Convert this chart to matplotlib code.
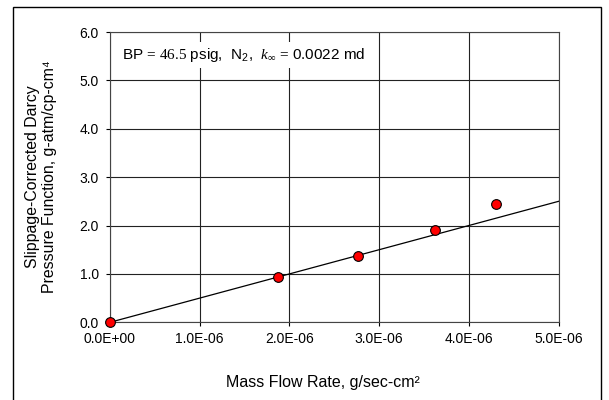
import numpy as np
import matplotlib.pyplot as plt
from matplotlib.patches import Rectangle

plt.rcParams['font.family'] = ['Liberation Sans', 'DejaVu Sans']
plt.rcParams['mathtext.fontset'] = 'custom'
plt.rcParams['mathtext.rm'] = 'Liberation Serif'
plt.rcParams['mathtext.sf'] = 'Liberation Sans'
plt.rcParams['mathtext.it'] = 'Liberation Serif:italic'

# data
mass_flow = [0.0, 1.87e-6, 2.76e-6, 3.62e-6, 4.30e-6]
pressure_fn = [0.0, 0.94, 1.38, 1.90, 2.44]
fit_x = [0.0, 5.0e-6]
fit_y = [0.0, 2.5]
x_ticks = [0.0, 1e-6, 2e-6, 3e-6, 4e-6, 5e-6]
x_labels = ["0.0E+00", "1.0E-06", "2.0E-06", "3.0E-06", "4.0E-06", "5.0E-06"]
y_ticks = [0.0, 1.0, 2.0, 3.0, 4.0, 5.0, 6.0]

W, H = 609, 400
left, right, top, bottom = 110, 558.5, 32, 322.3

fig = plt.figure(figsize=(W / 100, H / 100), dpi=100)
ax = fig.add_axes([left / W, 1 - bottom / H, (right - left) / W, (bottom - top) / H])

# outer frame of the chart area
fig.patches.append(Rectangle((12.5 / W, -0.05), (600.5 - 12.5) / W, 1 - 6.7 / H + 0.05,
                             transform=fig.transFigure, fill=False,
                             edgecolor='black', linewidth=1.0))

ax.plot(fit_x, fit_y, color='black', linewidth=0.9, zorder=3)
ax.plot(mass_flow, pressure_fn, 'o', markerfacecolor='#ff0000', markeredgecolor='black',
        markeredgewidth=0.8, markersize=7, clip_on=False, zorder=4)

ax.set_xlim(0, 5e-6)
ax.set_ylim(0, 6)
ax.set_xticks(x_ticks)
ax.set_xticklabels(x_labels)
ax.set_yticks(y_ticks)
ax.set_yticklabels([f"{v:.1f}" for v in y_ticks])
ax.tick_params(labelsize=10, direction='out', length=3, width=0.8, color='black')
ax.tick_params(axis='x', pad=4)
ax.tick_params(axis='y', pad=5)
ax.grid(True, color='#222222', linewidth=0.8)
ax.set_axisbelow(True)
for s in ax.spines.values():
    s.set_linewidth(0.8)
    s.set_color('#444444')

fig.text(41 / W, 1 - 177 / H,
         "Slippage-Corrected Darcy\nPressure Function, g-atm/cp-cm\u2074",
         fontsize=11.4, rotation=90, ha='center', va='center',
         multialignment='center', linespacing=1.2)
fig.text(323 / W, 1 - 383 / H, "Mass Flow Rate, g/sec-cm\u00b2",
         fontsize=11.5, ha='center', va='center')

ax.text(0.027, 0.92,
        r"BP$\,=\,46.5$ psig,  N$_\mathsf{2}$,  $k_\infty\,=\,$0.0022 md",
        transform=ax.transAxes, fontsize=11, ha='left', va='center',
        bbox=dict(facecolor='white', edgecolor='none', pad=3), zorder=5)

fig.savefig('out.png', dpi=100)
